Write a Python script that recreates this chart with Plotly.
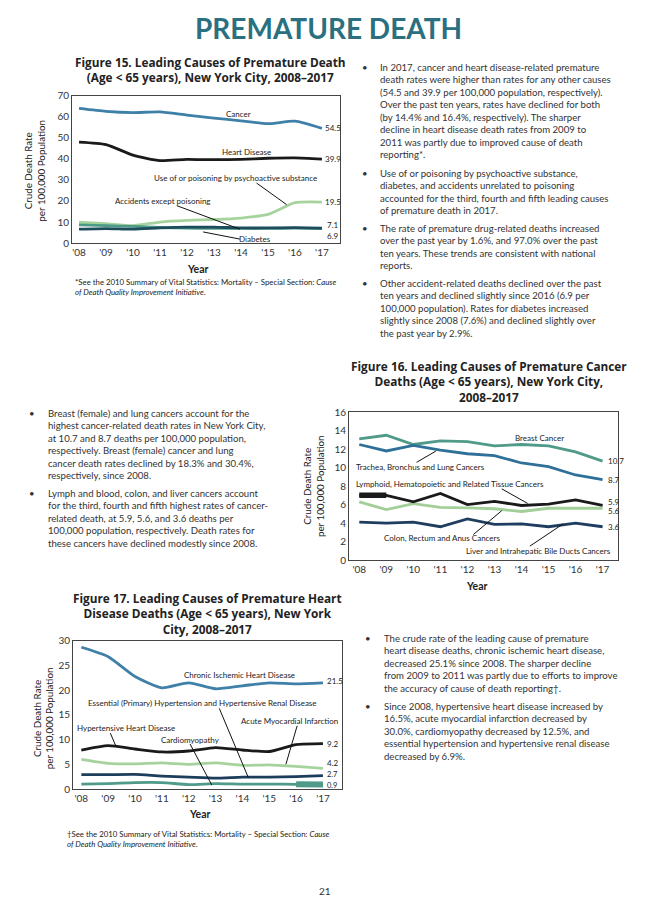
import plotly.graph_objects as go

W, H = 660, 914
FONT = "Lato"
TFONT = "Open Sans"
TXT = "#333333"

# ---------------- data ----------------
years = [2008, 2009, 2010, 2011, 2012, 2013, 2014, 2015, 2016, 2017]
year_labels = ["'08", "'09", "'10", "'11", "'12", "'13", "'14", "'15", "'16", "'17"]

# Figure 15
f15_cancer = [64.0, 62.6, 62.0, 62.3, 60.8, 59.4, 58.1, 56.7, 57.9, 54.5]
f15_heart = [48.0, 46.8, 41.8, 39.2, 39.8, 39.6, 39.8, 40.3, 40.5, 39.9]
f15_psycho = [9.9, 9.2, 8.3, 10.0, 10.8, 11.2, 11.9, 13.6, 19.2, 19.5]
f15_accidents = [8.7, 8.3, 7.9, 7.4, 7.1, 7.0, 7.0, 7.0, 7.1, 6.9]
f15_diabetes = [6.6, 6.9, 6.6, 7.2, 7.6, 7.6, 7.2, 7.2, 7.3, 7.1]

# Figure 16
f16_breast = [13.1, 13.5, 12.5, 12.9, 12.8, 12.35, 12.5, 12.35, 11.7, 10.7]
f16_lung = [12.5, 11.8, 12.4, 11.9, 11.5, 11.3, 10.5, 10.1, 9.2, 8.7]
f16_lymph = [7.0, 7.0, 6.3, 7.2, 6.0, 6.35, 5.9, 6.05, 6.5, 5.9]
f16_colon = [6.3, 5.45, 6.1, 5.7, 5.65, 5.55, 5.25, 5.6, 5.6, 5.6]
f16_liver = [4.1, 4.0, 4.1, 3.6, 4.45, 3.85, 3.9, 3.6, 4.0, 3.6]

# Figure 17
f17_chronic = [28.7, 26.8, 22.8, 20.5, 21.5, 20.3, 20.9, 21.5, 21.3, 21.5]
f17_hhd = [7.9, 8.8, 8.1, 7.5, 7.7, 8.4, 7.9, 7.6, 9.0, 9.2]
f17_ami = [6.0, 5.2, 5.1, 5.3, 5.0, 5.3, 4.8, 4.9, 4.6, 4.2]
f17_essential = [2.9, 2.9, 2.95, 2.6, 2.4, 2.2, 2.4, 2.4, 2.5, 2.7]
f17_cardio = [1.0, 1.1, 1.3, 1.3, 0.9, 1.1, 1.0, 1.0, 0.95, 0.9]

# ---------------- helpers ----------------
def px(x):
    return x / W

def py(y):
    return 1 - y / H

fig = go.Figure()

def add_line(xa, ya, yv, color, width=2.8, shape="spline", xs=None):
    fig.add_trace(go.Scatter(
        x=xs if xs is not None else years, y=yv, mode="lines",
        line=dict(color=color, width=width, shape=shape, smoothing=0.6 if shape == "spline" else None),
        xaxis=xa, yaxis=ya, hoverinfo="skip", showlegend=False))

# Figure 15 lines
C_CANCER = "#3f80a8"
C_BLACK = "#1a1a1a"
C_LGREEN = "#a6d39d"
C_TEAL = "#4e9a88"
C_DARK = "#1d4d5c"
add_line("x", "y", f15_psycho, C_LGREEN)
add_line("x", "y", f15_accidents, C_TEAL)
add_line("x", "y", f15_diabetes, C_DARK)
add_line("x", "y", f15_cancer, C_CANCER)
add_line("x", "y", f15_heart, C_BLACK)

# Figure 16 lines
add_line("x2", "y2", f16_colon, "#a2cf98", shape="linear")
add_line("x2", "y2", f16_breast, "#4f9a88", shape="linear")
add_line("x2", "y2", f16_lung, "#2f7099", shape="linear")
add_line("x2", "y2", f16_lymph, C_BLACK, shape="linear")
add_line("x2", "y2", f16_lymph[:2], C_BLACK, width=5.5, shape="linear", xs=years[:2])
add_line("x2", "y2", f16_liver, "#1f3d5e", shape="linear")

# Figure 17 lines
add_line("x3", "y3", f17_ami, "#a6d39d")
add_line("x3", "y3", f17_cardio, "#4f9a88")
add_line("x3", "y3", f17_cardio[-2:], "#4f9a88", width=6, xs=years[-2:])
add_line("x3", "y3", f17_essential, "#1d3d5c")
add_line("x3", "y3", f17_hhd, C_BLACK)
add_line("x3", "y3", f17_chronic, "#3f80a8")

# ---------------- axes ----------------
def axis_common():
    return dict(showgrid=False, zeroline=False, showline=True, linecolor="#444444",
                linewidth=1, mirror=True, ticks="", fixedrange=True,
                tickfont=dict(family=FONT, size=10, color=TXT))

def xaxis(x0, x1, rng, anchor):
    d = axis_common()
    d.update(domain=[px(x0), px(x1)], range=rng, tickvals=years, ticktext=year_labels,
             anchor=anchor)
    return d

def yaxis(y_top, y_bot, rng, dtick, anchor):
    d = axis_common()
    d.update(domain=[py(y_bot), py(y_top)], range=rng, dtick=dtick, anchor=anchor)
    return d

fig.update_layout(
    xaxis=xaxis(72, 340, [2007.74, 2017.67], "y"),
    yaxis=yaxis(90, 239.5, [0, 70], 10, "x"),
    xaxis2=xaxis(349, 618, [2007.62, 2017.57], "y2"),
    yaxis2=yaxis(411, 561, [0, 16], 2, "x2"),
    xaxis3=xaxis(73, 342, [2007.69, 2017.71], "y3"),
    yaxis3=yaxis(643, 793.3, [0, 30], 5, "x3"),
)

ann = []
shapes = []

def pa(x, y, text, size=10, color=TXT, xanchor="left", yanchor="middle", bold=False,
       align="left", angle=0, family=FONT):
    if bold:
        text = "<b>" + text.replace("<br>", "</b><br><b>") + "</b>"
    ann.append(dict(x=px(x), y=py(y), xref="paper", yref="paper", text=text,
                    showarrow=False, xanchor=xanchor, yanchor=yanchor, align=align,
                    textangle=angle, font=dict(family=family, size=size, color=color)))

def da(xa, ya, x, y, text, size=8, xanchor="center", yshift=0, xshift=0):
    ann.append(dict(x=x, y=y, xref=xa, yref=ya, text=text, showarrow=False,
                    xanchor=xanchor, yanchor="middle", yshift=yshift, xshift=xshift,
                    font=dict(family=FONT, size=size, color="#222222")))

def leader(xa, ya, x0, y0, x1, y1):
    shapes.append(dict(type="line", xref=xa, yref=ya, x0=x0, y0=y0, x1=x1, y1=y1,
                       line=dict(color="#111111", width=1)))

# page title
pa(328, 21, "PREMATURE DEATH", size=28, color="#2a7080", xanchor="center", bold=True)

# ---- Figure 15 ----
pa(210, 63.4, "Figure 15. Leading Causes of Premature Death<br>(Age &lt; 65 years), New York City, 2008–2017",
   size=11.8, xanchor="center", align="center", bold=True, color="#222222", family=TFONT)
pa(35, 166, "Crude Death Rate<br>per 100,000 Population", size=9.8, xanchor="center",
   align="center", angle=-90, color="#222222")
pa(198, 266, "Year", size=10.5, xanchor="center", bold=True, color="#222222")
pa(73, 284, "*See the 2010 Summary of Vital Statistics: Mortality – Special Section: <i>Cause</i><br><i>of Death Quality Improvement Initiative</i>.",
   size=7.8, color="#222222")

da("x", "y", 2013.9, 61.4, "Cancer")
da("x", "y", 2014.21, 43.3, "Heart Disease")
da("x", "y", 2013.78, 30.8, "Use of or poisoning by psychoactive substance")
da("x", "y", 2011.12, 20.2, "Accidents except poisoning")
da("x", "y", 2014.52, 1.9, "Diabetes")
leader("x", "y", 2014.58, 28.5, 2015.69, 18.3)
leader("x", "y", 2011.62, 17.8, 2013.96, 6.6)
leader("x", "y", 2013.96, 1.9, 2012.6, 5.3)
da("x", "y", years[-1], f15_cancer[-1], "54.5", xanchor="left", xshift=1)
da("x", "y", years[-1], f15_heart[-1], "39.9", xanchor="left", xshift=1)
da("x", "y", years[-1], f15_psycho[-1], "19.5", xanchor="left", xshift=1)
da("x", "y", years[-1], f15_diabetes[-1], "7.1", xanchor="left", xshift=3, yshift=3)
da("x", "y", years[-1], f15_accidents[-1], "6.9", xanchor="left", xshift=3, yshift=-7)

# ---- Figure 16 ----
pa(489, 379.7, "Figure 16. Leading Causes of Premature Cancer<br>Deaths (Age &lt; 65 years), New York City,<br>2008–2017",
   size=11.8, xanchor="center", align="center", bold=True, color="#222222", family=TFONT)
pa(313, 486, "Crude Death Rate<br>per 100,000 Population", size=9.8, xanchor="center",
   align="center", angle=-90, color="#222222")
pa(477, 587, "Year", size=10.5, xanchor="center", bold=True, color="#222222")

da("x2", "y2", 2014.65, 13.18, "Breast Cancer")
da("x2", "y2", 2010.28, 10.06, "Trachea, Bronchus and Lung Cancers")
leader("x2", "y2", 2010.12, 10.57, 2010.83, 11.78)
da("x2", "y2", 2011.35, 8.21, "Lymphoid, Hematopoietic and Related Tissue Cancers")
leader("x2", "y2", 2013.27, 7.70, 2014.23, 6.12)
da("x2", "y2", 2011.07, 2.33, "Colon, Rectum and Anus Cancers")
leader("x2", "y2", 2012.22, 2.76, 2013.27, 5.34)
da("x2", "y2", 2014.62, 0.97, "Liver and Intrahepatic Bile Ducts Cancers")
leader("x2", "y2", 2014.31, 1.50, 2015.54, 3.91)
da("x2", "y2", years[-1], f16_breast[-1], "10.7", xanchor="left", xshift=3)
da("x2", "y2", years[-1], f16_lung[-1], "8.7", xanchor="left", xshift=3)
da("x2", "y2", years[-1], f16_lymph[-1], "5.9", xanchor="left", xshift=3, yshift=3)
da("x2", "y2", years[-1], f16_colon[-1], "5.6", xanchor="left", xshift=3, yshift=-3)
da("x2", "y2", years[-1], f16_liver[-1], "3.6", xanchor="left", xshift=3)

# ---- Figure 17 ----
pa(208, 615, "Figure 17. Leading Causes of Premature Heart<br>Disease Deaths (Age &lt; 65 years), New York<br>City, 2008–2017",
   size=11.8, xanchor="center", align="center", bold=True, color="#222222", family=TFONT)
pa(43.5, 721, "Crude Death Rate<br>per 100,000 Population", size=9.8, xanchor="center",
   align="center", angle=-90, color="#222222")
pa(200, 819, "Year", size=10.5, xanchor="center", bold=True, color="#222222")
pa(65, 844.5, "†See the 2010 Summary of Vital Statistics: Mortality – Special Section: <i>Cause</i><br><i>of Death Quality Improvement Initiative</i>.",
   size=7.8, color="#222222")

da("x3", "y3", 2013.91, 23.0, "Chronic Ischemic Heart Disease")
da("x3", "y3", 2012.52, 17.46, "Essential (Primary) Hypertension and Hypertensive Renal Disease")
leader("x3", "y3", 2013.14, 16.32, 2014.22, 2.32)
da("x3", "y3", 2015.77, 13.8, "Acute Myocardial Infarction")
leader("x3", "y3", 2016.04, 12.8, 2015.62, 5.0)
da("x3", "y3", 2009.66, 12.32, "Hypertensive Heart Disease")
leader("x3", "y3", 2009.08, 11.32, 2009.3, 8.52)
da("x3", "y3", 2012.05, 10.0, "Cardiomyopathy")
leader("x3", "y3", 2012.05, 9.12, 2012.86, 0.8)
da("x3", "y3", years[-1], f17_chronic[-1], "21.5", xanchor="left", xshift=2, yshift=2)
da("x3", "y3", years[-1], f17_hhd[-1], "9.2", xanchor="left", xshift=2)
da("x3", "y3", years[-1], f17_ami[-1], "4.2", xanchor="left", xshift=2, yshift=5)
da("x3", "y3", years[-1], f17_essential[-1], "2.7", xanchor="left", xshift=2, yshift=1.5, size=7.5)
da("x3", "y3", years[-1], f17_cardio[-1], "0.9", xanchor="left", xshift=2, yshift=-1, size=7.5)

# ---------------- body text ----------------
def bullet_block(xb, xt, y_first, lines, size=9.6):
    pa(xb, y_first, "•", size=size, color=TXT)
    ann.append(dict(x=px(xt), y=py(y_first - 7.6), xref="paper", yref="paper",
                    text="<br>".join(lines), showarrow=False, xanchor="left",
                    yanchor="top", align="left",
                    font=dict(family=FONT, size=size, color=TXT)))

bullet_block(360, 378, 61.7, [
    "In 2017, cancer and heart disease-related premature",
    "death rates were higher than rates for any other causes",
    "(54.5 and 39.9 per 100,000 population, respectively).",
    "Over the past ten years, rates have declined for both",
    "(by 14.4% and 16.4%, respectively). The sharper",
    "decline in heart disease death rates from 2009 to",
    "2011 was partly due to improved cause of death",
    "reporting*."])
bullet_block(360, 378, 169, [
    "Use of or poisoning by psychoactive substance,",
    "diabetes, and accidents unrelated to poisoning",
    "accounted for the third, fourth and fifth leading causes",
    "of premature death in 2017."])
bullet_block(360, 378, 224.3, [
    "The rate of premature drug-related deaths increased",
    "over the past year by 1.6%, and 97.0% over the past",
    "ten years. These trends are consistent with national",
    "reports."])
bullet_block(360, 378, 280, [
    "Other accident-related deaths declined over the past",
    "ten years and declined slightly since 2016 (6.9 per",
    "100,000 population). Rates for diabetes increased",
    "slightly since 2008 (7.6%) and declined slightly over",
    "the past year by 2.9%."])

bullet_block(26.7, 45.7, 412.3, [
    "Breast (female) and lung cancers account for the",
    "highest cancer-related death rates in New York City,",
    "at 10.7 and 8.7 deaths per 100,000 population,",
    "respectively. Breast (female) cancer and lung",
    "cancer death rates declined by 18.3% and 30.4%,",
    "respectively, since 2008."])
bullet_block(26.7, 45.7, 494, [
    "Lymph and blood, colon, and liver cancers account",
    "for the third, fourth and fifth highest rates of cancer-",
    "related death, at 5.9, 5.6, and 3.6 deaths per",
    "100,000 population, respectively. Death rates for",
    "these cancers have declined modestly since 2008."])

bullet_block(363.3, 382.3, 640.7, [
    "The crude rate of the leading cause of premature",
    "heart disease deaths, chronic ischemic heart disease,",
    "decreased 25.1% since 2008. The sharper decline",
    "from 2009 to 2011 was partly due to efforts to improve",
    "the accuracy of cause of death reporting†."])
bullet_block(363.3, 382.3, 710, [
    "Since 2008, hypertensive heart disease increased by",
    "16.5%, acute myocardial infarction decreased by",
    "30.0%, cardiomyopathy decreased by 12.5%, and",
    "essential hypertension and hypertensive renal disease",
    "decreased by 6.9%."])

pa(325, 897, "21", size=10, xanchor="center", color=TXT)

fig.update_layout(
    width=W, height=H, autosize=False,
    margin=dict(l=0, r=0, t=0, b=0),
    paper_bgcolor="white", plot_bgcolor="white",
    showlegend=False,
    annotations=ann, shapes=shapes,
    font=dict(family=FONT, color=TXT),
)

fig.write_html("out.html", config={"displayModeBar": False},
               post_script="document.body.style.margin='0';document.body.style.overflow='hidden';")
